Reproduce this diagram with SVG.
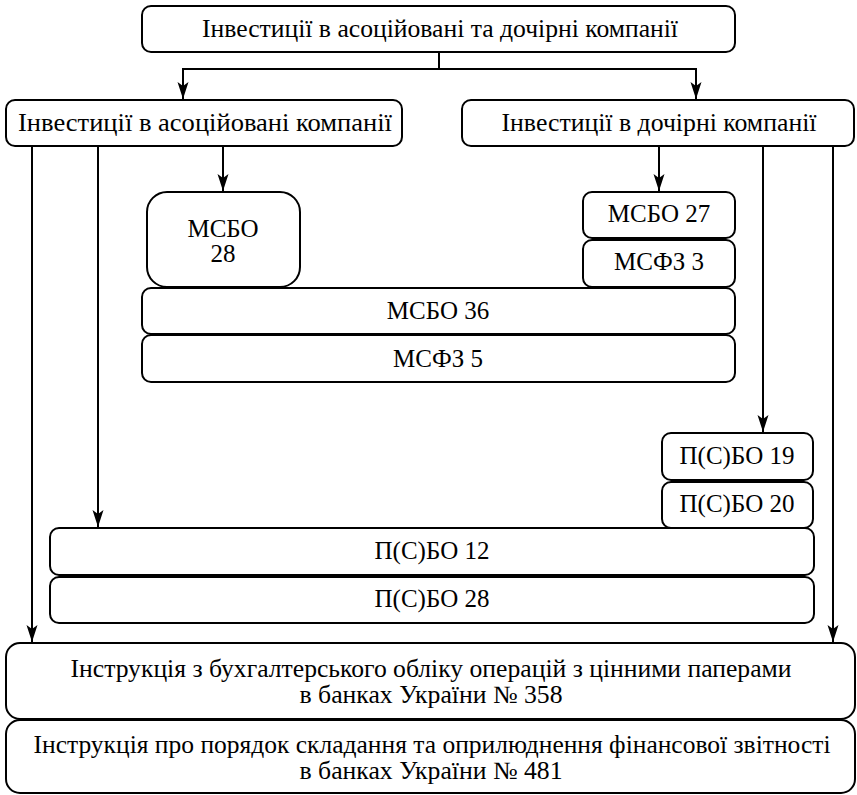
<svg xmlns="http://www.w3.org/2000/svg" width="857" height="795" viewBox="0 0 857 795">
<defs>
<style>
.box{fill:#fff;stroke:#000;stroke-width:2}
.t{font-size:25px;fill:#000;text-anchor:middle}
.c{fill:none;stroke:#000;stroke-width:2}
</style>
<marker id="ah" viewBox="0 0 17 12" refX="17" refY="6" markerWidth="17" markerHeight="12" markerUnits="userSpaceOnUse" orient="auto">
<path d="M17,6 L0,0.5 L4,6 L0,11.5 Z" fill="#000"/>
</marker>
</defs>
<rect width="857" height="795" fill="#fff"/>
<g id="connectors">
<path class="c" d="M439,52 V69 M183,69 H696"/>
<path class="c" d="M183,68 V99" marker-end="url(#ah)"/>
<path class="c" d="M696,68 V99" marker-end="url(#ah)"/>
<path class="c" d="M32,146 V642" marker-end="url(#ah)"/>
<path class="c" d="M98,146 V527" marker-end="url(#ah)"/>
<path class="c" d="M223,146 V191" marker-end="url(#ah)"/>
<path class="c" d="M659,146 V191" marker-end="url(#ah)"/>
<path class="c" d="M763,146 V432" marker-end="url(#ah)"/>
<path class="c" d="M833,146 V642" marker-end="url(#ah)"/>
</g>
<g font-family="Liberation Serif, Times New Roman, Tinos, DejaVu Serif, serif">
<g id="top">
<rect class="box" x="142" y="6" width="593" height="46" rx="9"/>
<text class="t" x="440" y="37" textLength="476" lengthAdjust="spacingAndGlyphs">Інвестиції в асоційовані та дочірні компанії</text>
</g>
<g id="assoc">
<rect class="box" x="6" y="100" width="396" height="46" rx="9"/>
<text class="t" x="205" y="131" textLength="374" lengthAdjust="spacingAndGlyphs">Інвестиції в асоційовані компанії</text>
</g>
<g id="subs">
<rect class="box" x="462" y="100" width="392" height="46" rx="9"/>
<text class="t" x="659" y="131" textLength="315" lengthAdjust="spacingAndGlyphs">Інвестиції в дочірні компанії</text>
</g>
<g id="msbo28">
<rect class="box" x="147" y="192" width="153" height="95" rx="20"/>
<text class="t" x="223" y="237">МСБО</text>
<text class="t" x="223" y="262">28</text>
</g>
<g id="msbo27">
<rect class="box" x="583" y="192" width="152" height="46" rx="9"/>
<text class="t" x="659" y="222">МСБО 27</text>
</g>
<g id="msfz3">
<rect class="box" x="583" y="240" width="152" height="47" rx="9"/>
<text class="t" x="659" y="270">МСФЗ 3</text>
</g>
<g id="msbo36">
<rect class="box" x="142" y="288" width="593" height="46" rx="9"/>
<text class="t" x="438" y="319">МСБО 36</text>
</g>
<g id="msfz5">
<rect class="box" x="142" y="335" width="593" height="47" rx="9"/>
<text class="t" x="438" y="367">МСФЗ 5</text>
</g>
<g id="psbo19">
<rect class="box" x="662" y="433" width="151" height="47" rx="9"/>
<text class="t" x="737" y="464">П(С)БО 19</text>
</g>
<g id="psbo20">
<rect class="box" x="662" y="482" width="151" height="46" rx="9"/>
<text class="t" x="737" y="512">П(С)БО 20</text>
</g>
<g id="psbo12">
<rect class="box" x="50" y="528" width="764" height="47" rx="9"/>
<text class="t" x="432" y="559">П(С)БО 12</text>
</g>
<g id="psbo28">
<rect class="box" x="50" y="577" width="764" height="46" rx="9"/>
<text class="t" x="432" y="607">П(С)БО 28</text>
</g>
<g id="instr358">
<rect class="box" x="6" y="643" width="849" height="76" rx="14"/>
<text class="t" x="431" y="677" textLength="721" lengthAdjust="spacingAndGlyphs">Інструкція з бухгалтерського обліку операцій з цінними паперами</text>
<text class="t" x="431" y="703" textLength="263" lengthAdjust="spacingAndGlyphs">в банках України № 358</text>
</g>
<g id="instr481">
<rect class="box" x="6" y="720" width="849" height="73" rx="14"/>
<text class="t" x="432" y="753" textLength="797" lengthAdjust="spacingAndGlyphs">Інструкція про порядок складання та оприлюднення фінансової звітності</text>
<text class="t" x="431" y="779" textLength="263" lengthAdjust="spacingAndGlyphs">в банках України № 481</text>
</g>
</g>
</svg>
